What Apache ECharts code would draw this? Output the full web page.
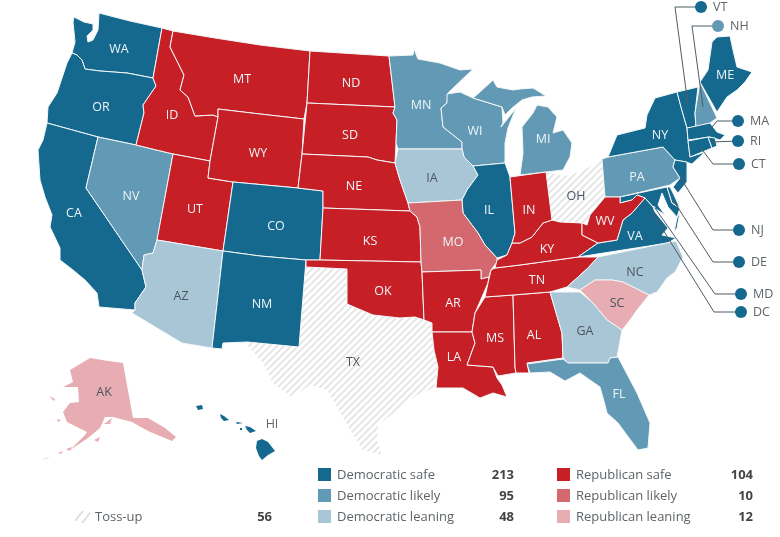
<!DOCTYPE html>
<html><head><meta charset="utf-8">
<style>html,body{margin:0;padding:0;background:#fff}#c{width:780px;height:537px}</style>
<script src="https://cdn.jsdelivr.net/npm/echarts@6/dist/echarts.min.js"></script>
</head><body><div id="c"></div>
<script>
// ---- data ----
const ratingNames = ['Democratic safe','Democratic likely','Democratic leaning','Republican safe','Republican likely','Republican leaning','Toss-up'];
const ratingSeats = [213,95,48,104,10,12,56];
const demSafe = ['WA','OR','CA','CO','NM','IL','NY','ME','VT','MA','RI','CT','NJ','DE','MD','DC','VA','HI'];
const demLikely = ['NV','MN','WI','MI','PA','FL','NH'];
const demLeaning = ['AZ','IA','NC','GA'];
const repSafe = ['ID','MT','WY','UT','ND','SD','NE','KS','OK','AR','LA','MS','AL','TN','KY','IN','WV'];
const repLikely = ['MO'];
const repLeaning = ['SC','AK'];
const tossUp = ['TX','OH'];
const calloutStates = ['VT','NH','MA','RI','CT','NJ','DE','MD','DC'];

// ---- styles ----
const ratingColors = ['#15698f','#6299b5','#a9c6d6','#c71f26','#d3686f','#e8adb2'];
const darkLabelRatings = [2,5,6];

// ---- base map geometry (outline traced in picture space) ----
const shapes = {
WA:[[[74,17],[84,22],[93,24],[93,30],[87,36],[88,42],[93,40],[98,30],[99,13],[130,21],[162,28],[153,78],[127,73],[100,71],[85,69],[82,60],[77,55],[72,53],[75,42],[73,22]]],
OR:[[[72,53],[77,55],[82,60],[85,69],[100,71],[127,73],[153,78],[156,86],[143,105],[144,113],[136,145],[98,137],[47,123],[48,107],[57,93],[67,63]]],
CA:[[[47,123],[98,137],[86,188],[142,270],[146,287],[135,303],[135,310],[99,307],[97,293],[85,280],[73,270],[60,260],[60,248],[50,227],[52,215],[45,197],[40,180],[38,150],[43,140]]],
NV:[[[98,137],[136,145],[173,154],[157,240],[153,253],[144,255],[142,270],[86,188]]],
ID:[[[162,28],[173,31],[170,47],[184,75],[180,90],[188,97],[195,116],[213,115],[218,117],[210,161],[173,154],[136,145],[144,113],[143,105],[156,86],[153,78]]],
UT:[[[173,154],[210,161],[208,178],[233,182],[223,251],[157,240]]],
AZ:[[[157,240],[223,251],[212,348],[182,343],[132,313],[135,310],[135,303],[146,287],[142,270],[144,255],[153,253]]],
MT:[[[173,31],[215,38],[260,45],[310,51],[307,103],[304,119],[260,114],[218,109],[218,117],[213,115],[195,116],[188,97],[180,90],[184,75],[170,47]]],
WY:[[[218,109],[260,114],[304,119],[302,154],[298,188],[233,182],[208,178],[210,161],[218,117]]],
CO:[[[233,182],[298,188],[323,191],[323,208],[320,260],[306,260],[260,256],[223,251]]],
NM:[[[223,251],[260,256],[306,260],[299,347],[247,342],[223,343],[222,349],[212,348]]],
TX:[[[306,267],[347,269],[347,304],[373,315],[400,318],[415,317],[424,320],[432,323],[432,333],[434,350],[438,367],[434,388],[417,395],[378,425],[377,440],[382,455],[363,450],[350,430],[337,407],[327,390],[310,385],[292,397],[273,383],[263,363],[247,345],[247,342],[299,347]]],
ND:[[[310,51],[389,56],[395,107],[307,103]]],
SD:[[[307,103],[395,107],[393,113],[397,120],[396,143],[395,163],[377,160],[368,157],[302,154]]],
NE:[[[302,154],[368,157],[377,160],[395,163],[400,180],[408,203],[410,211],[323,208],[323,191],[298,188]]],
KS:[[[323,208],[410,211],[417,217],[420,227],[421,262],[320,260]]],
OK:[[[306,260],[320,260],[421,262],[422,272],[424,320],[415,317],[400,318],[373,315],[347,304],[347,269],[306,267]]],
MN:[[[389,56],[413,55],[414,49],[418,59],[440,63],[460,70],[473,69],[448,93],[447,103],[441,108],[443,127],[462,142],[462,149],[398,149],[396,143],[397,120],[393,113],[395,107]]],
WI:[[[447,94],[460,92],[473,98],[502,107],[503,123],[501,127],[516,108],[508,128],[505,143],[505,163],[473,166],[464,157],[462,149],[462,142],[443,127],[441,108],[447,103]]],
MI:[[[473,98],[480,92],[493,80],[497,87],[513,90],[520,89],[533,88],[546,96],[532,97],[522,100],[512,108],[505,115],[502,107]],[[537,105],[548,107],[557,117],[553,133],[563,130],[572,143],[570,157],[563,170],[546,172],[520,175],[523,153],[522,127],[533,113]]],
IA:[[[398,149],[462,149],[464,157],[473,166],[478,175],[467,190],[462,200],[408,203],[400,180],[395,163]]],
IL:[[[473,166],[505,163],[510,177],[515,233],[512,243],[507,255],[497,258],[485,245],[478,233],[463,213],[462,200],[467,190],[478,175]]],
MO:[[[408,203],[462,200],[463,213],[478,233],[485,245],[497,258],[497,262],[491,270],[489,277],[481,279],[481,270],[422,272],[421,262],[420,227],[417,217],[410,211]]],
AR:[[[422,272],[481,270],[481,279],[489,277],[488,283],[475,313],[472,332],[432,332],[432,323],[424,320]]],
LA:[[[432,332],[472,332],[475,343],[467,365],[493,367],[497,378],[502,385],[507,397],[493,393],[480,398],[463,388],[436,388],[438,367],[434,350]]],
MS:[[[485,297],[513,295],[515,367],[516,373],[498,376],[493,367],[467,365],[475,343],[472,332],[475,313]]],
AL:[[[513,295],[550,292],[562,333],[563,358],[527,363],[529,373],[516,373],[515,367]]],
TN:[[[495,268],[520,265],[578,257],[598,257],[588,268],[567,287],[550,292],[513,295],[485,297],[488,283],[491,270]]],
KY:[[[497,260],[507,255],[512,243],[520,243],[532,237],[543,223],[552,220],[560,222],[582,223],[582,235],[598,243],[578,257],[520,265],[495,268]]],
IN:[[[510,177],[546,172],[552,220],[543,223],[532,237],[520,243],[512,243],[515,233]]],
OH:[[[546,172],[565,176],[580,172],[602,160],[605,197],[600,203],[590,215],[587,225],[582,223],[560,222],[552,220]]],
PA:[[[602,159],[608,157],[663,147],[675,160],[673,167],[680,178],[670,185],[620,197],[605,197]]],
NY:[[[608,157],[617,135],[645,128],[647,115],[655,98],[677,92],[681,107],[687,128],[688,140],[690,157],[705,152],[692,164],[686,162],[675,160],[663,147]]],
NJ:[[[675,160],[687,162],[687,177],[687,182],[678,193],[673,187],[680,178],[673,167]]],
VT:[[[677,92],[698,87],[695,113],[696,127],[687,128],[681,107]]],
NH:[[[700,82],[717,118],[710,123],[696,127],[695,113]]],
ME:[[[712,42],[717,37],[730,36],[733,50],[737,67],[752,72],[745,82],[737,90],[727,97],[717,112],[700,82],[708,70]]],
MA:[[[687,128],[710,123],[717,132],[725,135],[720,140],[710,137],[688,140]]],
CT:[[[688,141],[708,137],[712,148],[690,157]]],
RI:[[[708,137],[715,138],[717,146],[712,148]]],
MD:[[[620,197],[667,187],[672,203],[680,208],[677,217],[668,207],[662,193],[658,205],[665,215],[653,207],[645,198],[637,195],[632,200],[620,203]]],
DE:[[[667,187],[670,187],[674,195],[680,208],[672,203]]],
DC:[[[652,206],[655,207],[654,210]]],
VA:[[[578,257],[598,243],[617,240],[623,220],[632,213],[643,200],[645,198],[653,207],[655,212],[668,228],[662,235],[676,238],[668,243]],[[677,218],[680,212],[677,228],[674,232]]],
WV:[[[605,197],[620,197],[620,203],[632,200],[637,195],[645,198],[632,213],[623,220],[617,240],[598,243],[582,235],[582,223],[587,225],[590,215],[600,203]]],
NC:[[[567,287],[588,268],[598,257],[676,241],[683,257],[675,272],[667,278],[657,292],[649,295],[623,282],[612,280],[595,280],[580,290]]],
SC:[[[580,290],[595,280],[612,280],[623,282],[649,295],[637,310],[630,320],[622,330],[607,320],[593,303]]],
GA:[[[550,292],[580,292],[593,303],[607,320],[622,330],[617,357],[610,358],[608,363],[568,363],[563,358],[562,333]]],
FL:[[[527,364],[563,359],[568,363],[608,363],[610,358],[618,357],[637,393],[650,423],[648,448],[638,450],[618,423],[607,413],[605,405],[600,387],[580,373],[565,381],[550,372],[530,373]]],
AK:[[[90,358],[108,361],[123,363],[133,418],[148,418],[165,428],[176,437],[172,441],[160,436],[148,431],[132,422],[113,417],[105,417],[100,428],[88,438],[70,450],[85,435],[87,432],[67,422],[63,412],[70,403],[79,402],[78,387],[63,387],[73,382],[70,370]],[[43,460],[50,456],[46,459]],[[58,453],[63,451],[61,454]],[[66,449],[72,447],[70,451]],[[94,440],[100,437],[98,442]],[[49,396],[55,399],[54,401]],[[57,419],[61,420],[58,422]],[[104,424],[112,418],[110,424]]],
HI:[[[257,441],[262,439],[268,442],[275,451],[268,455],[262,460],[259,456],[256,448]],[[245,426],[250,427],[256,431],[250,433],[247,430]],[[220,414],[224,416],[229,420],[224,421],[221,418]],[[196,406],[202,405],[203,409],[198,410]],[[236,422],[243,423],[243,424],[237,424]],[[240,428],[242,428],[242,430],[240,430]]]
};
const labelSpots = {WA:[119,49],OR:[101,107],CA:[74,213],NV:[131,196],ID:[172,115],MT:[242,79],WY:[258,153],UT:[195,209],AZ:[181,296],CO:[276,226],NM:[262,304],ND:[351,83],SD:[350,135],NE:[354,186],KS:[370,241],OK:[383,291],TX:[353,362],MN:[421,105],IA:[432,178],MO:[453,242],AR:[453,303],LA:[454,357],WI:[475,131],IL:[489,210],MI:[543,139],IN:[529,210],OH:[576,196],KY:[547,249],TN:[537,280],MS:[495,338],AL:[534,335],GA:[585,331],FL:[619,394],SC:[617,303],NC:[635,272],VA:[635,236],WV:[605,221],PA:[637,177],NY:[660,135],ME:[725,75],AK:[104,392],HI:[272,424],VT:[688,105],NH:[703,107],MA:[708,132],RI:[712,142],CT:[700,147],NJ:[680,177],DE:[673,200],MD:[655,208],DC:[652,212]};
const calloutPaths = {
VT:[[701,7],[675,7],[688,105]],
NH:[[718,26],[692,26],[703,107]],
MA:[[738,121],[717,121],[708,132]],
RI:[[738,141],[712,142]],
CT:[[739,164],[713,164],[700,147]],
NJ:[[739,230],[713,230],[680,177]],
DE:[[739,262],[713,262],[673,200]],
MD:[[741,294],[715,294],[655,208]],
DC:[[741,312],[714,312],[652,212]]
};

const flip = p => [p[0], -p[1]];
const geoJson = {type:'FeatureCollection',features:Object.keys(shapes).map(k=>({
  type:'Feature',
  properties:{name:k,cp:flip(labelSpots[k])},
  geometry:{type:'MultiPolygon',coordinates:shapes[k].map(r=>[r.map(flip)])}
}))};
echarts.registerMap('usa',geoJson);

function hatch(){
  const c=document.createElement('canvas');c.width=c.height=7;
  const g=c.getContext('2d');g.fillStyle='#fff';g.fillRect(0,0,7,7);
  g.strokeStyle='#e6e6e6';g.lineWidth=1.7;
  [[-7,7,7,-7],[0,7,7,0],[7,7,14,0],[-7,14,7,0],[0,14,14,0]].forEach(l=>{g.beginPath();g.moveTo(l[0],l[1]);g.lineTo(l[2],l[3]);g.stroke();});
  return c;
}
const hatchFill={image:hatch(),repeat:'repeat'};

const groups=[demSafe,demLikely,demLeaning,repSafe,repLikely,repLeaning,tossUp];
const ratingOf={};groups.forEach((g,i)=>g.forEach(s=>ratingOf[s]=i));
const fillOf=i=>i===6?hatchFill:ratingColors[i];
const noBorder=['TX','OH','HI','AK'];

const mapData=Object.keys(ratingOf).map(s=>{
  const r=ratingOf[s],isCall=calloutStates.includes(s),nb=noBorder.includes(s);
  return {name:s,value:r,
    itemStyle:{areaColor:fillOf(r),borderColor:nb?'rgba(255,255,255,0)':'#f4f7f8',borderWidth:nb?0:1},
    label:{show:!isCall,color:s==='HI'?'#666':(darkLabelRatings.includes(r)?'#4a5560':'#eef5f8')}};
});

const font='"Open Sans"';
const frame={left:0,top:0,width:780,height:537,aspectScale:1,boundingCoords:[[0,0],[780,-537]]};

// legend
const legendRows=[[318,337,514],[318,337,514],[318,337,514],[557,576,753],[557,576,753],[557,576,753]];
const rowY=[475,496,517];
const graphic=[];
ratingNames.slice(0,6).forEach((n,i)=>{
  const [sx,tx,nx]=legendRows[i],y=rowY[i%3];
  graphic.push({type:'rect',shape:{x:sx,y:y-7,width:13,height:13},style:{fill:ratingColors[i]}});
  graphic.push({type:'text',x:tx,y:y,style:{text:n,font:'13px '+font,fill:'#5e6468',textVerticalAlign:'middle'}});
  graphic.push({type:'text',x:nx,y:y,style:{text:String(ratingSeats[i]),font:'bold 13px '+font,fill:'#444',textAlign:'right',textVerticalAlign:'middle'}});
});
[[75,521,83,511],[82,523,90,513]].forEach(l=>graphic.push({type:'line',shape:{x1:l[0],y1:l[1],x2:l[2],y2:l[3]},style:{stroke:'#dedede',lineWidth:2}}));
graphic.push({type:'text',x:95,y:517,style:{text:ratingNames[6],font:'13px '+font,fill:'#5e6468',textVerticalAlign:'middle'}});
graphic.push({type:'text',x:272,y:517,style:{text:String(ratingSeats[6]),font:'bold 13px '+font,fill:'#444',textAlign:'right',textVerticalAlign:'middle'}});

const chart=echarts.init(document.getElementById('c'),null,{renderer:'canvas'});
chart.setOption({
  animation:false,
  backgroundColor:'#fff',
  textStyle:{fontFamily:font},
  tooltip:{show:false},
  geo:Object.assign({map:'usa',silent:true,roam:false,z:1,label:{show:false},
    itemStyle:{areaColor:'rgba(0,0,0,0)',borderColor:'rgba(0,0,0,0)',borderWidth:0}},frame),
  graphic:graphic,
  series:[
    Object.assign({type:'map',map:'usa',silent:true,roam:false,z:2,
      label:{show:true,fontFamily:font,fontSize:12.5,color:'#eef5f8'},
      emphasis:{disabled:true},select:{disabled:true},selectedMode:false,
      data:mapData},frame),
    {type:'lines',coordinateSystem:'geo',polyline:true,z:3,silent:true,
      lineStyle:{color:'#4f5c65',width:1,opacity:1},
      data:calloutStates.map(s=>({name:s,coords:calloutPaths[s].map(flip)}))},
    {type:'scatter',coordinateSystem:'geo',z:4,silent:true,symbol:'circle',symbolSize:12,
      label:{show:true,position:'right',distance:6,formatter:'{b}',fontFamily:font,fontSize:12.5,color:'#5e6468'},
      data:calloutStates.map(s=>({name:s,value:flip(calloutPaths[s][0]),
        itemStyle:{color:ratingColors[ratingOf[s]],opacity:1}}))}
  ]
});
</script></body></html>
